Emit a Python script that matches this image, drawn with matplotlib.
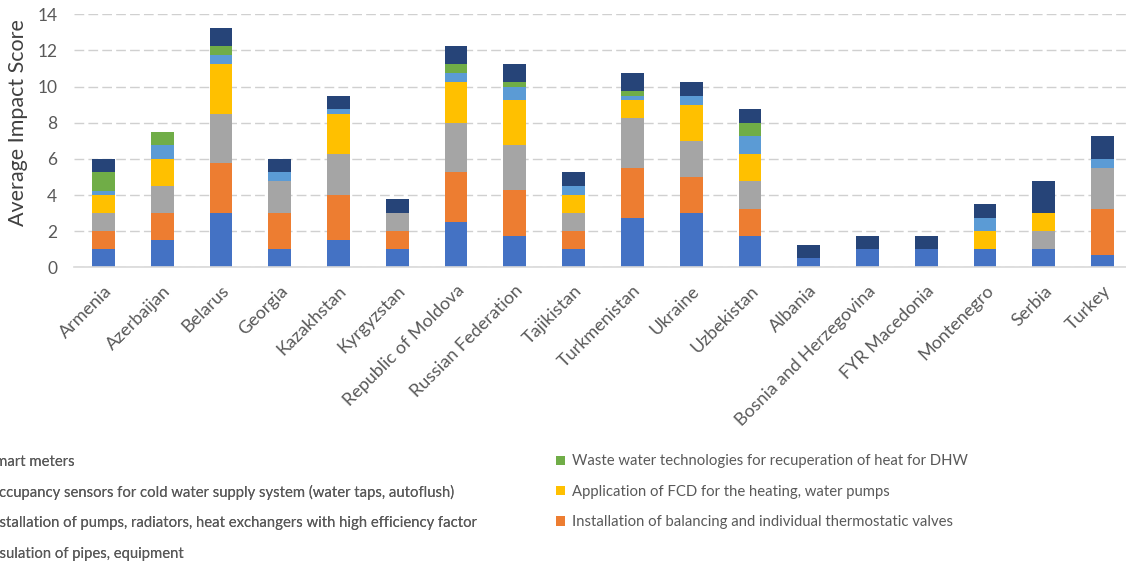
import matplotlib
matplotlib.use("Agg")
import matplotlib.pyplot as plt
import numpy as np
from matplotlib.patches import Patch

plt.rcParams['font.family'] = ['Lato', 'DejaVu Sans']

countries = ["Armenia", "Azerbaijan", "Belarus", "Georgia", "Kazakhstan", "Kyrgyzstan",
             "Republic of Moldova", "Russian Federation", "Tajikistan", "Turkmenistan",
             "Ukraine", "Uzbekistan", "Albania", "Bosnia and Herzegovina", "FYR Macedonia",
             "Montenegro", "Serbia", "Turkey"]

insulation = [1.0, 1.5, 3.0, 1.0, 1.5, 1.0, 2.5, 1.75, 1.0, 2.75, 3.0, 1.75, 0.5, 1.0, 1.0, 1.0, 1.0, 0.67]
balancing  = [1.0, 1.5, 2.75, 2.0, 2.5, 1.0, 2.75, 2.5, 1.0, 2.75, 2.0, 1.5, 0, 0, 0, 0, 0, 2.58]
pumps      = [1.0, 1.5, 2.75, 1.75, 2.25, 1.0, 2.75, 2.5, 1.0, 2.75, 2.0, 1.5, 0, 0, 0, 0, 1.0, 2.25]
fcd        = [1.0, 1.5, 2.75, 0, 2.25, 0, 2.25, 2.5, 1.0, 1.0, 2.0, 1.5, 0, 0, 0, 1.0, 1.0, 0]
occupancy  = [0.2, 0.75, 0.5, 0.5, 0.25, 0, 0.5, 0.75, 0.5, 0.25, 0.5, 1.0, 0, 0, 0, 0.75, 0, 0.5]
wastewater = [1.1, 0.75, 0.5, 0, 0, 0, 0.5, 0.25, 0, 0.25, 0, 0.75, 0, 0, 0, 0, 0, 0]
smart      = [0.7, 0, 1.0, 0.75, 0.75, 0.8, 1.0, 1.0, 0.75, 1.0, 0.75, 0.75, 0.75, 0.75, 0.75, 0.75, 1.75, 1.25]

series_labels = ["Insulation of pipes, equipment",
                 "Installation of balancing and individual thermostatic valves",
                 "Installation of pumps, radiators, heat exchangers with high efficiency factor",
                 "Application of FCD for the heating, water pumps",
                 "Occupancy sensors for cold water supply system (water taps, autoflush)",
                 "Waste water technologies for recuperation of heat for DHW",
                 "Smart meters"]
series_values = [insulation, balancing, pumps, fcd, occupancy, wastewater, smart]
colors = ["#4472C4", "#ED7D31", "#A5A5A5", "#FFC000", "#5B9BD5", "#70AD47", "#264478"]

yticks = [0, 2, 4, 6, 8, 10, 12, 14]

W, H = 1126, 565
fig = plt.figure(figsize=(W / 100, H / 100), dpi=100)
ax = fig.add_axes([74 / W, 1 - 267.3 / H, (1132 - 74) / W, (267.3 - 14.3) / H])

x = np.arange(len(countries))
bottom = np.zeros(len(countries))
for vals, lab, col in zip(series_values, series_labels, colors):
    v = np.array(vals, dtype=float)
    ax.bar(x, v, bottom=bottom, width=0.386, color=col, label=lab, linewidth=0, zorder=3)
    bottom += v

ax.set_xlim(-0.5, len(countries) - 0.5)
ax.set_ylim(0, 14)
ax.set_yticks(yticks)
ax.set_yticklabels([str(t) for t in yticks])
ax.yaxis.grid(True, color="#d0d0d0", linewidth=1.0, linestyle=(0, (7, 3)), zorder=0)
ax.set_axisbelow(True)
for s in ["top", "right", "left"]:
    ax.spines[s].set_visible(False)
ax.spines["bottom"].set_color("#d9d9d9")
ax.spines["bottom"].set_linewidth(1.2)
ax.spines["bottom"].set_zorder(4)

ax.tick_params(axis="y", length=0, pad=12, labelsize=12.5, labelcolor="#595959")
ax.tick_params(axis="x", length=0, pad=11, labelsize=13, labelcolor="#595959")
ax.set_xticks(x)
ax.set_xticklabels(countries, rotation=45, ha="right", va="top", rotation_mode="anchor")

fig.text(18 / W, 1 - 123 / H, "Average Impact Score", rotation=90, ha="center", va="center",
         fontsize=15.5, color="#404040")

# legend: left column (cut off at left edge) and right column
left_idx = [6, 4, 2, 0]
right_idx = [5, 3, 1]
common = dict(frameon=False, fontsize=10.7, labelcolor="#595959", handlelength=0.6,
              handleheight=0.6, handletextpad=0.45, labelspacing=1.1, borderpad=0,
              borderaxespad=0)
lh = [Patch(facecolor=colors[i]) for i in left_idx]
leg1 = fig.legend(lh, [series_labels[i] for i in left_idx], loc="upper left",
                  bbox_to_anchor=(-29 / W, 1 - 454.5 / H), **common)
fig.add_artist(leg1)
rh = [Patch(facecolor=colors[i]) for i in right_idx]
leg2 = fig.legend(rh, [series_labels[i] for i in right_idx], loc="upper left",
                  bbox_to_anchor=(556 / W, 1 - 454.5 / H), **common)

fig.savefig("out.png", dpi=100)
